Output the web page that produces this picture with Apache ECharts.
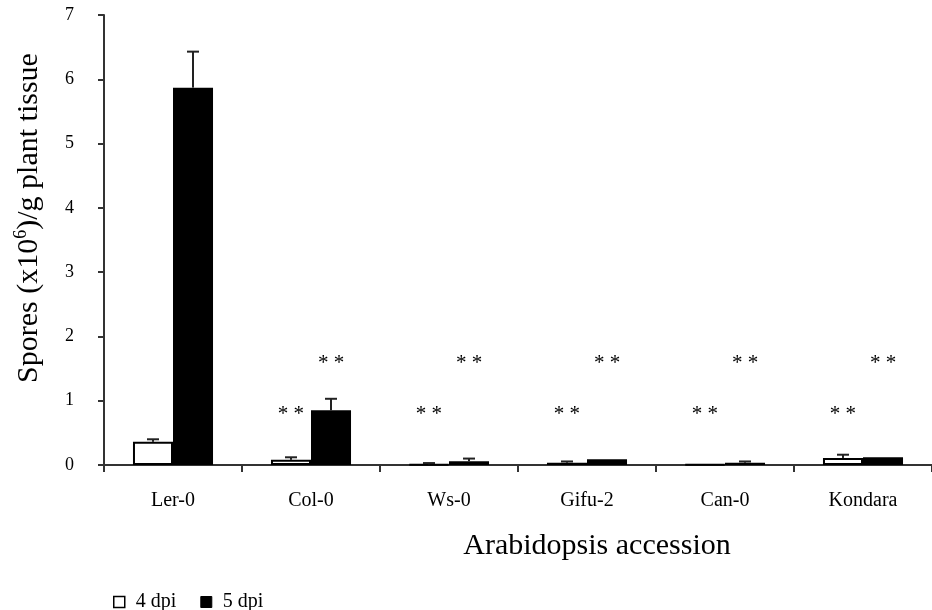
<!DOCTYPE html>
<html>
<head>
<meta charset="utf-8">
<script src="https://cdn.jsdelivr.net/npm/echarts@6/dist/echarts.min.js"></script>
<style>
  html, body { margin: 0; padding: 0; background: #ffffff; }
  #chart { width: 932px; height: 610px; }
</style>
</head>
<body>
<div id="chart"></div>
<script>
// Spore counts per accession at 4 and 5 days post inoculation
const categories = ['Ler-0', 'Col-0', 'Ws-0', 'Gifu-2', 'Can-0', 'Kondara'];
const dpi4 = [0.36, 0.08, 0.01, 0.035, 0.008, 0.11];
const dpi4Err = [0.04, 0.04, 0.02, 0.02, 0.0, 0.05];
const dpi5 = [5.87, 0.85, 0.06, 0.09, 0.035, 0.12];
const dpi5Err = [0.56, 0.18, 0.04, 0.0, 0.02, 0.0];
// significance marks above each bar
const sig4 = ['', '* *', '* *', '* *', '* *', '* *'];
const sig5 = ['', '* *', '* *', '* *', '* *', '* *'];
const yTicks = [0, 1, 2, 3, 4, 5, 6, 7];

const SERIF = '"Liberation Serif", "Times New Roman", serif';
const AXIS_COLOR = '#333333';
const BAR_FRACTION = 0.29;      // bar width as share of a category band
const SIG_LEVEL_4 = 0.87;        // height of the marks over the 4 dpi bars
const SIG_LEVEL_5 = 1.65;        // height of the marks over the 5 dpi bars

const chart = echarts.init(document.getElementById('chart'), null, { renderer: 'canvas' });

function errorBarSeries(values, errs, side) {
  return {
    type: 'custom',
    z: 5,
    silent: true,
    data: values.map((v, i) => [i, v, v + errs[i]]),
    encode: { x: 0, y: [1, 2] },
    renderItem(params, api) {
      const lo = api.value(1);
      const hi = api.value(2);
      if (!(hi > lo)) return null;
      const i = api.value(0);
      const band = api.size([1, 0])[0];
      const dx = side * band * BAR_FRACTION / 2;
      const base = api.coord([i, lo]);
      const top = api.coord([i, hi]);
      const x = base[0] + dx;
      const cap = 6;
      const style = { stroke: '#222222', lineWidth: 2 };
      return {
        type: 'group',
        children: [
          { type: 'line', shape: { x1: x, y1: base[1], x2: x, y2: top[1] }, style },
          { type: 'line', shape: { x1: x - cap, y1: top[1], x2: x + cap, y2: top[1] }, style }
        ]
      };
    }
  };
}

const sigSeries = {
  type: 'custom',
  z: 6,
  silent: true,
  data: categories.map((c, i) => [i, SIG_LEVEL_5]),
  encode: { x: 0, y: 1 },
  renderItem(params, api) {
    const i = api.value(0);
    const band = api.size([1, 0])[0];
    const dx = band * BAR_FRACTION / 2;
    const p4 = api.coord([i, SIG_LEVEL_4]);
    const p5 = api.coord([i, SIG_LEVEL_5]);
    const font = '21px ' + SERIF;
    const children = [];
    if (sig4[i]) children.push({
      type: 'text',
      style: { text: sig4[i], x: p4[0] - dx, y: p4[1] + 5, align: 'center', verticalAlign: 'middle', font, fill: '#000' }
    });
    if (sig5[i]) children.push({
      type: 'text',
      style: { text: sig5[i], x: p5[0] + dx, y: p5[1] + 5, align: 'center', verticalAlign: 'middle', font, fill: '#000' }
    });
    return { type: 'group', children };
  }
};

const option = {
  backgroundColor: '#ffffff',
  animation: false,
  textStyle: { fontFamily: SERIF, color: '#000' },
  grid: { left: 104, top: 15, width: 838, height: 450, containLabel: false },
  legend: {
    left: 108,
    top: 587,
    itemWidth: 11,
    itemHeight: 11,
    itemGap: 24,
    icon: 'rect',
    textStyle: { fontFamily: SERIF, fontSize: 20, color: '#000', padding: [0, 0, 0, 6] },
    data: [
      { name: '4 dpi', itemStyle: { color: '#ffffff', borderColor: '#000000', borderWidth: 1.5 } },
      { name: '5 dpi', itemStyle: { color: '#000000', borderColor: '#000000', borderWidth: 1 } }
    ]
  },
  xAxis: {
    type: 'category',
    data: categories,
    name: 'Arabidopsis accession',
    nameLocation: 'middle',
    nameGap: 66,
    nameTextStyle: { fontFamily: SERIF, fontSize: 30, color: '#000', padding: [0, 0, 0, 158] },
    axisLine: { lineStyle: { color: AXIS_COLOR, width: 2 } },
    axisTick: { show: true, length: 7, alignWithLabel: false, lineStyle: { color: AXIS_COLOR, width: 2 } },
    axisLabel: { fontFamily: SERIF, fontSize: 20, color: '#000', margin: 26 },
    splitLine: { show: false }
  },
  yAxis: {
    type: 'value',
    min: 0,
    max: 7,
    interval: 1,
    name: '{a|Spores (x10}{s|6}{a|)/g plant tissue}',
    nameLocation: 'middle',
    nameRotate: 90,
    nameGap: 58,
    nameTextStyle: {
      padding: [0, 0, 0, 44],
      rich: {
        a: { fontFamily: SERIF, fontSize: 30, color: '#000', lineHeight: 34 },
        s: { fontFamily: SERIF, fontSize: 18, color: '#000', verticalAlign: 'top', lineHeight: 34, padding: [0, 0, 10, 0] }
      }
    },
    axisLine: { show: true, lineStyle: { color: AXIS_COLOR, width: 2 } },
    axisTick: { show: true, length: 6, lineStyle: { color: AXIS_COLOR, width: 2 } },
    axisLabel: {
      fontFamily: SERIF, fontSize: 18, color: '#000', margin: 30,
      formatter: v => (yTicks.indexOf(v) >= 0 ? String(v) : '')
    },
    splitLine: { show: false }
  },
  series: [
    {
      name: '4 dpi',
      type: 'bar',
      data: dpi4,
      barWidth: (BAR_FRACTION * 100) + '%',
      barGap: '0%',
      itemStyle: { color: '#ffffff', borderColor: '#000000', borderWidth: 2 }
    },
    {
      name: '5 dpi',
      type: 'bar',
      data: dpi5,
      barWidth: (BAR_FRACTION * 100) + '%',
      barGap: '0%',
      itemStyle: { color: '#000000', borderColor: '#000000', borderWidth: 0 }
    },
    errorBarSeries(dpi4, dpi4Err, -1),
    errorBarSeries(dpi5, dpi5Err, 1),
    sigSeries
  ]
};

chart.setOption(option);
</script>
</body>
</html>
